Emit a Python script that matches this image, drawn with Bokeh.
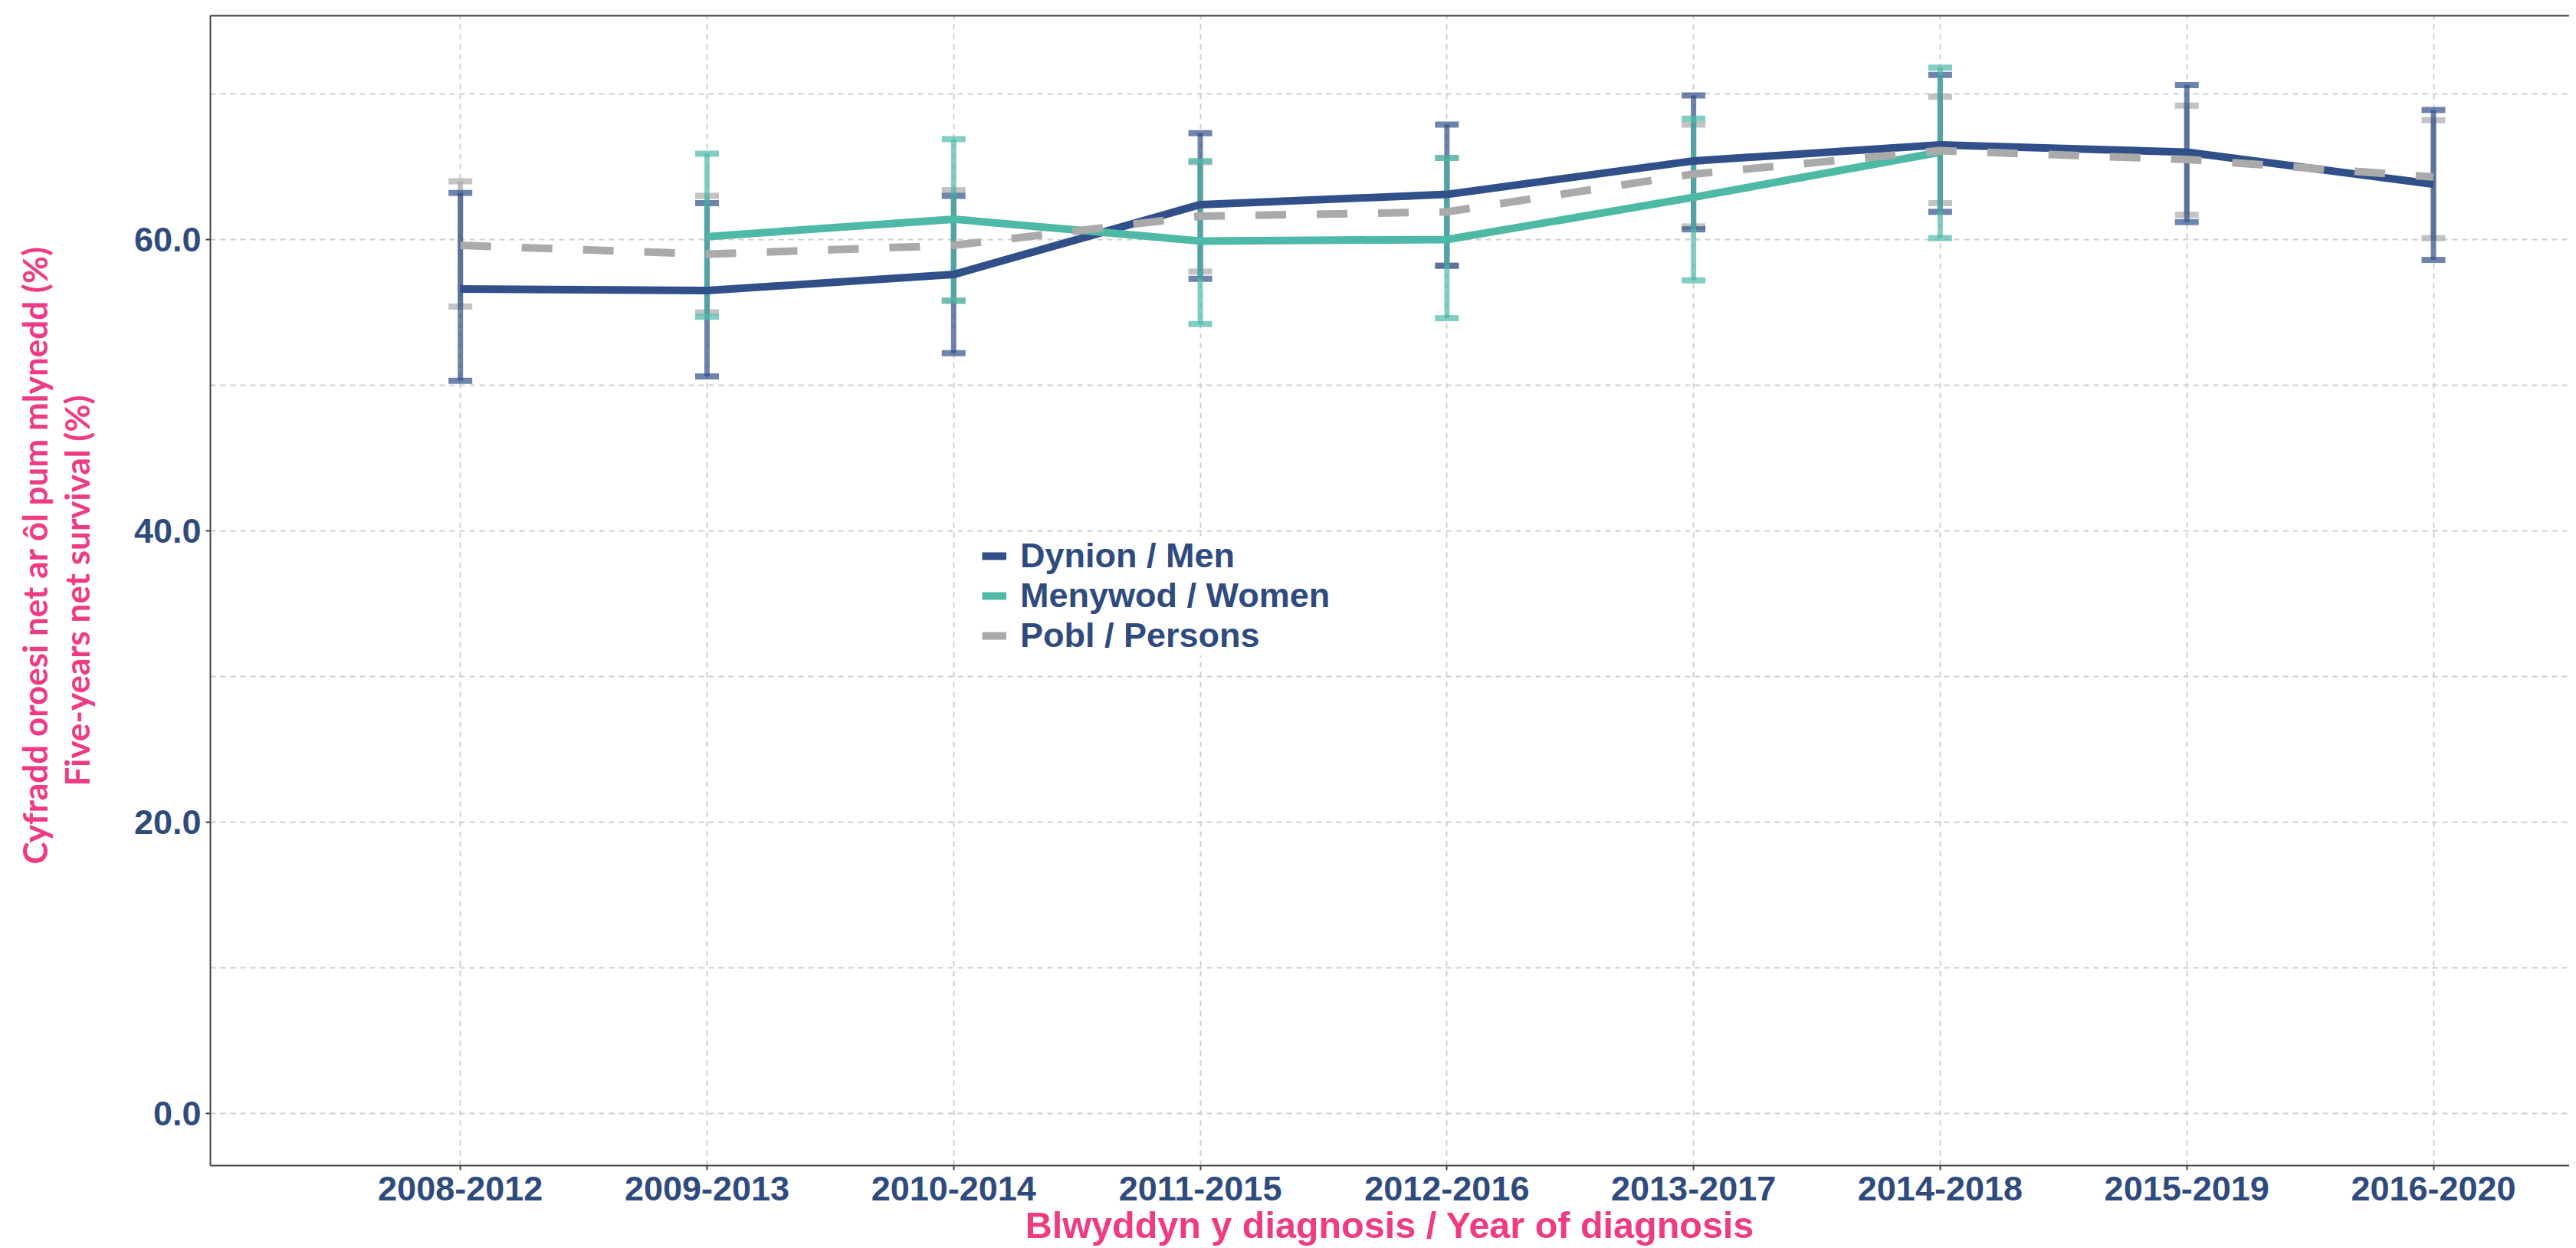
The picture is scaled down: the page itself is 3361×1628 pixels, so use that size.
from bokeh.plotting import figure
from bokeh.models import (ColumnDataSource, FixedTicker, PrintfTickFormatter, Whisker,
                          TeeHead, Legend, LegendItem, Title, LinearAxis, Range1d)
from bokeh.embed import file_html
from bokeh.resources import INLINE

# ---- data ----
periods = ["2008-2012", "2009-2013", "2010-2014", "2011-2015", "2012-2016",
           "2013-2017", "2014-2018", "2015-2019", "2016-2020"]

men = [56.6, 56.5, 57.6, 62.4, 63.1, 65.4, 66.5, 66.0, 63.8]
men_lo = [50.3, 50.6, 52.2, 57.3, 58.2, 60.7, 61.9, 61.2, 58.6]
men_hi = [63.2, 62.5, 63.0, 67.3, 67.9, 69.9, 71.3, 70.6, 68.9]

women = [None, 60.2, 61.4, 59.9, 60.0, 62.9, 66.0, None, None]
women_lo = [None, 54.7, 55.8, 54.2, 54.6, 57.2, 60.1, None, None]
women_hi = [None, 65.9, 66.9, 65.4, 65.6, 68.3, 71.8, None, None]

persons = [59.6, 59.0, 59.6, 61.6, 61.9, 64.5, 66.1, 65.5, 64.3]
persons_lo = [55.4, 55.0, 55.8, 57.8, 58.2, 60.9, 62.5, 61.7, 60.1]
persons_hi = [64.0, 63.0, 63.4, 65.3, 65.6, 67.9, 69.8, 69.2, 68.2]

y_ticks = [0, 20, 40, 60]
y_minor = [10, 30, 50, 70]

labels = ["Dynion / Men", "Menywod / Women", "Pobl / Persons"]

# ---- styles ----
C_MEN = "#31508A"
C_WOMEN = "#4FB9A8"
C_PERS = "#AAAAAA"
C_TICK = "#2F4B7E"
C_TITLE = "#EE3B83"
C_AXIS = "#444444"
GRID = "#CFCFCF"


def make_source(vals, lo, hi):
    xs, ys, los, his = [], [], [], []
    for i, (v, l, h) in enumerate(zip(vals, lo, hi)):
        if v is None:
            continue
        xs.append(i + 1)
        ys.append(v)
        los.append(l)
        his.append(h)
    return ColumnDataSource(dict(x=xs, y=ys, lo=los, hi=his))


src_men = make_source(men, men_lo, men_hi)
src_women = make_source(women, women_lo, women_hi)
src_pers = make_source(persons, persons_lo, persons_hi)

n = len(periods)
p = figure(width=3352, height=1627,
           x_range=Range1d(-0.0137, n + 0.5516), y_range=Range1d(-3.59, 75.37),
           output_backend="svg", toolbar_location=None,
           min_border_left=274, min_border_right=0, min_border_top=20, min_border_bottom=0)
p.outline_line_color = None
p.background_fill_color = "white"
p.border_fill_color = "white"

# lines
r_men = p.line("x", "y", source=src_men, line_color=C_MEN, line_width=10)
r_women = p.line("x", "y", source=src_women, line_color=C_WOMEN, line_width=10)
r_pers = p.line("x", "y", source=src_pers, line_color=C_PERS, line_width=10, line_dash="40 40")

# error bars
for src, col in [(src_pers, C_PERS), (src_men, C_MEN), (src_women, C_WOMEN)]:
    w = Whisker(base="x", upper="hi", lower="lo", source=src, dimension="height",
                line_color=col, line_width=7, line_alpha=0.7,
                upper_head=TeeHead(size=31, line_color=col, line_width=8, line_alpha=0.7),
                lower_head=TeeHead(size=31, line_color=col, line_width=8, line_alpha=0.7))
    p.add_layout(w)

# axes
p.xaxis.ticker = FixedTicker(ticks=list(range(1, n + 1)))
p.xaxis.major_label_overrides = {i + 1: lab for i, lab in enumerate(periods)}
p.yaxis.ticker = FixedTicker(ticks=y_ticks, minor_ticks=y_minor)
p.yaxis.formatter = PrintfTickFormatter(format="%.1f")

for ax in (p.xaxis[0], p.yaxis[0]):
    ax.axis_line_color = C_AXIS
    ax.axis_line_width = 2
    ax.major_tick_line_color = C_AXIS
    ax.major_tick_line_width = 2
    ax.major_tick_out = 6
    ax.major_tick_in = 0
    ax.minor_tick_out = 0
    ax.minor_tick_in = 0
    ax.major_label_text_font = "Liberation Sans"
    ax.major_label_text_font_style = "bold"
    ax.major_label_text_font_size = "45px"
    ax.major_label_text_color = C_TICK

p.yaxis.major_label_standoff = 6
p.xaxis.major_label_standoff = 8

p.xaxis.axis_label = "Blwyddyn y diagnosis / Year of diagnosis"
p.xaxis.axis_label_text_font = "Liberation Sans"
p.xaxis.axis_label_text_font_style = "bold"
p.xaxis.axis_label_text_font_size = "48.5px"
p.xaxis.axis_label_text_color = C_TITLE
p.xaxis.axis_label_standoff = 2

p.yaxis.axis_label = "Five-years net survival (%)"
p.yaxis.axis_label_text_font = "Lato"
p.yaxis.axis_label_text_font_style = "bold"
p.yaxis.axis_label_text_font_size = "44px"
p.yaxis.axis_label_text_color = C_TITLE
p.yaxis.axis_label_standoff = 46

p.add_layout(Title(text="Cyfradd oroesi net ar ôl pum mlynedd (%)", align="left",
                   text_font="Lato", text_font_style="bold", text_font_size="44px",
                   text_color=C_TITLE, standoff=0, offset=393), "left")

# top border line
top = LinearAxis(ticker=FixedTicker(ticks=[]), major_label_standoff=0, major_tick_out=0,
                 major_tick_in=0, minor_tick_out=0, minor_tick_in=0,
                 axis_line_color=C_AXIS, axis_line_width=2)
p.add_layout(top, "above")

# grids
p.xgrid.grid_line_color = GRID
p.xgrid.grid_line_width = 2
p.xgrid.grid_line_dash = "7 6"
p.ygrid.grid_line_color = GRID
p.ygrid.grid_line_width = 2
p.ygrid.grid_line_dash = "7 6"
p.ygrid.minor_grid_line_color = GRID
p.ygrid.minor_grid_line_width = 2
p.ygrid.minor_grid_line_dash = "7 6"

# legend
legend = Legend(items=[LegendItem(label=labels[0], renderers=[r_men]),
                       LegendItem(label=labels[1], renderers=[r_women]),
                       LegendItem(label=labels[2], renderers=[r_pers])],
                location=(1007, 665), orientation="vertical",
                background_fill_color="white", background_fill_alpha=1.0,
                border_line_color=None, glyph_width=32, glyph_height=20,
                label_standoff=18, spacing=-8, padding=10, margin=0,
                label_height=20, label_text_line_height=0.9,
                label_text_font="Liberation Sans", label_text_font_style="bold",
                label_text_font_size="45px", label_text_color=C_TICK)
p.add_layout(legend)

open("out.html", "w").write(file_html(p, INLINE))
